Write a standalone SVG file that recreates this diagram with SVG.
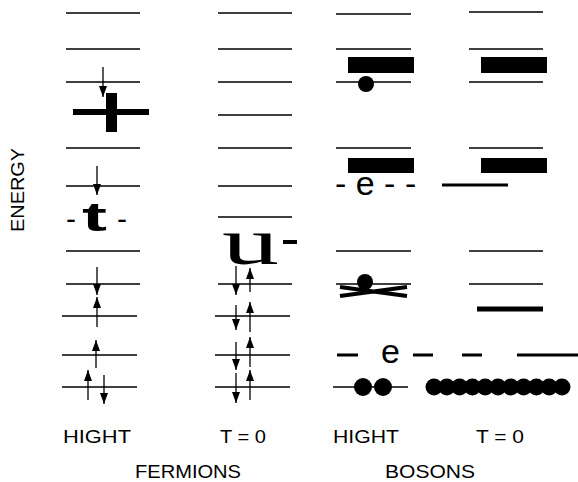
<svg xmlns="http://www.w3.org/2000/svg" width="578" height="482" viewBox="0 0 578 482">
<defs>
<marker id="ah" markerUnits="userSpaceOnUse" markerWidth="12" markerHeight="8" refX="11" refY="4" orient="auto" viewBox="0 0 12 8">
<path d="M0,0 L11,4 L0,8 Z" fill="#000"/>
</marker>
</defs>
<style>
.lv{stroke:#000;stroke-width:1.6;fill:none}
.ar{stroke:#000;stroke-width:1.3;fill:none;marker-end:url(#ah)}
.bar{fill:#000}
.lbl{font-family:"Liberation Sans",Arial,sans-serif;font-size:19px;fill:#000}
.big{font-family:"Liberation Sans",Arial,sans-serif;font-size:34px;fill:#000}
</style>
<rect width="578" height="482" fill="#fff"/>
<g id="axis"><text class="lbl" transform="translate(24,190) rotate(-90)" text-anchor="middle" textLength="84" lengthAdjust="spacingAndGlyphs">ENERGY</text></g>

<g id="fermions-hight">
<path class="lv" d="M66,13H140M66,49H140M66,82H140M66,148H140M66,186H140M66,251H140M66,284H140M62,316H137M62,355H137M62,387H137"/>
<rect class="bar" x="73" y="109" width="76" height="6"/>
<rect class="bar" x="106" y="93" width="11" height="39"/>
<text x="66" y="229" style="font-family:'Liberation Sans',Arial,sans-serif;font-size:30px">-</text>
<text x="82" y="231" style="font-family:'Liberation Sans',Arial,sans-serif;font-size:40px;font-weight:bold" textLength="25" lengthAdjust="spacingAndGlyphs">t</text>
<text x="117" y="229" style="font-family:'Liberation Sans',Arial,sans-serif;font-size:30px">-</text>
<text class="lbl" x="63" y="443" textLength="68" lengthAdjust="spacingAndGlyphs">HIGHT</text>
</g>

<g id="fermions-t0">
<path class="lv" d="M218,13H292M218,49H292M218,82H292M218,115H292M218,148H292M218,186H292M218,217H292M218,284H292M215,316H290M215,355H290M215,387H290"/>
<text x="222" y="264" style="font-family:'Liberation Serif',serif;font-size:66px" textLength="57" lengthAdjust="spacingAndGlyphs">u</text>
<rect class="bar" x="283" y="240" width="14" height="4"/>
<text class="lbl" x="220" y="443" textLength="46" lengthAdjust="spacingAndGlyphs">T = 0</text>
</g>

<g id="bosons-hight">
<path class="lv" d="M336,14H411M336,49H411M336,82H411M336,148H411M336,251H411M336,284H411M333,387H408"/>
<rect class="bar" x="348" y="57" width="66" height="16"/>
<rect class="bar" x="348" y="158" width="66" height="15"/>
<circle cx="366" cy="84" r="8"/>
<text class="big" x="335" y="195">- e - -</text>
<circle cx="365" cy="282" r="8"/>
<path d="M340,287L407,296M340,296L407,287" stroke="#000" stroke-width="4"/>
<path d="M337,355H358M413,355H433M462,355H482M517,355H578" stroke="#000" stroke-width="3"/>
<text class="big" x="381" y="363">e</text>
<circle cx="363" cy="387" r="9"/>
<circle cx="383" cy="387" r="9"/>
<text class="lbl" x="333" y="443" textLength="66" lengthAdjust="spacingAndGlyphs">HIGHT</text>
</g>

<g id="bosons-t0">
<path class="lv" d="M469,12H543M469,49H543M469,82H543M469,148H543M469,251H543M469,284H543"/>
<rect class="bar" x="481" y="57" width="66" height="16"/>
<rect class="bar" x="481" y="158" width="66" height="15"/>
<path d="M442,185H508" stroke="#000" stroke-width="3"/>
<path d="M477,309H543" stroke="#000" stroke-width="5"/>
<g fill="#000">
<circle cx="434" cy="387" r="8.5"/><circle cx="446.8" cy="387" r="8.5"/><circle cx="459.6" cy="387" r="8.5"/><circle cx="472.4" cy="387" r="8.5"/><circle cx="485.2" cy="387" r="8.5"/><circle cx="498" cy="387" r="8.5"/><circle cx="510.8" cy="387" r="8.5"/><circle cx="523.6" cy="387" r="8.5"/><circle cx="536.4" cy="387" r="8.5"/><circle cx="549.2" cy="387" r="8.5"/><circle cx="562" cy="387" r="8.5"/>
</g>
<text class="lbl" x="476" y="443" textLength="48" lengthAdjust="spacingAndGlyphs">T = 0</text>
</g>

<g id="groups">
<text class="lbl" x="188" y="478" text-anchor="middle" textLength="106" lengthAdjust="spacingAndGlyphs">FERMIONS</text>
<text class="lbl" x="430" y="478" text-anchor="middle" textLength="90" lengthAdjust="spacingAndGlyphs">BOSONS</text>
</g>

<g id="connectors">
<path class="ar" d="M103,67V97"/>
<path class="ar" d="M97,166V195"/>
<path class="ar" d="M97,267V295"/>
<path class="ar" d="M97,327V297"/>
<path class="ar" d="M96,368V340"/>
<path class="ar" d="M88,400V370"/>
<path class="ar" d="M104,375V404"/>
<path class="ar" d="M236,266V295"/>
<path class="ar" d="M250,292V268"/>
<path class="ar" d="M236,305V330"/>
<path class="ar" d="M250,332V302"/>
<path class="ar" d="M236,342V370"/>
<path class="ar" d="M250,367V337"/>
<path class="ar" d="M236,373V403"/>
<path class="ar" d="M250,400V370"/>
</g>
</svg>
